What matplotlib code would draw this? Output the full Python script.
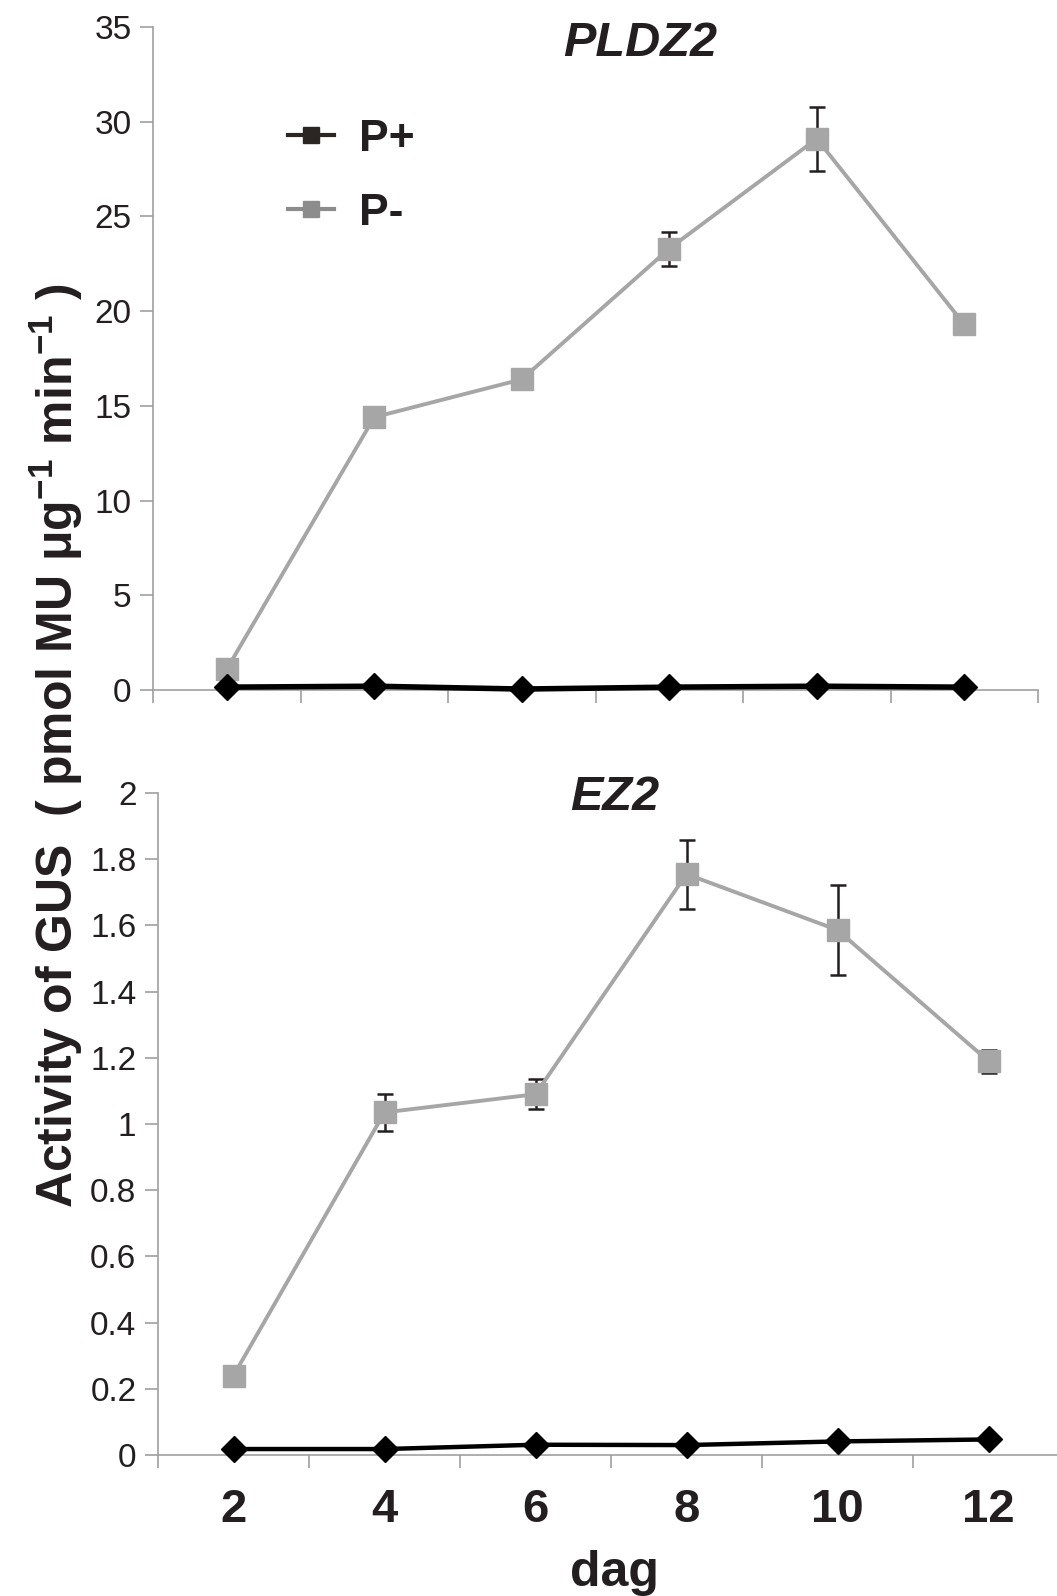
import matplotlib
matplotlib.use("Agg")
import matplotlib.pyplot as plt
from matplotlib.lines import Line2D
from matplotlib.ticker import FormatStrFormatter, FixedLocator

# data
days = ["2", "4", "6", "8", "10", "12"]
pldz2_plus = [0.15, 0.2, 0.05, 0.15, 0.2, 0.15]
pldz2_minus = [1.1, 14.4, 16.4, 23.3, 29.1, 19.3]
pldz2_minus_err = [0.3, 0.3, 0.3, 0.9, 1.7, 0.3]
ez2_plus = [0.018, 0.018, 0.031, 0.03, 0.041, 0.047]
ez2_minus = [0.24, 1.035, 1.09, 1.755, 1.586, 1.19]
ez2_minus_err = [0.02, 0.057, 0.045, 0.104, 0.135, 0.035]

ink = "#231f20"
grey_line = "#a6a6a6"
axis_grey = "#a0a0a0"

plt.rcParams["font.family"] = ["Liberation Sans", "DejaVu Sans"]
plt.rcParams["mathtext.fontset"] = "custom"
plt.rcParams["mathtext.rm"] = "Liberation Sans:bold"
plt.rcParams["mathtext.bf"] = "Liberation Sans:bold"

W, H = 1057, 1596
fig = plt.figure(figsize=(W / 100, H / 100), dpi=100)

# axes placed in pixel terms
ax1 = fig.add_axes([153 / W, 1 - 690 / H, 885 / W, (690 - 27) / H])
ax2 = fig.add_axes([158 / W, 1 - 1455 / H, 906 / W, (1455 - 793) / H])

x = list(range(len(days)))


def style(ax, ymax, step, fmt):
    for s in ["top", "right"]:
        ax.spines[s].set_visible(False)
    for s in ["left", "bottom"]:
        ax.spines[s].set_color(axis_grey)
        ax.spines[s].set_linewidth(1.2)
    ax.set_xlim(-0.5, len(days) - 0.5)
    ax.set_ylim(0, ymax)
    ax.yaxis.set_major_locator(FixedLocator([i * step for i in range(int(round(ymax / step)) + 1)]))
    ax.yaxis.set_major_formatter(FormatStrFormatter(fmt))
    ax.tick_params(axis="y", direction="out", length=9.5, width=1.2, color=axis_grey,
                   labelsize=24, labelcolor=ink, pad=6)
    ax.set_xticks(x)
    ax.set_xticks([i - 0.5 for i in range(len(days) + 1)], minor=True)
    ax.tick_params(axis="x", which="minor", direction="out", length=9, width=1.2, color=axis_grey)
    ax.tick_params(axis="x", which="major", length=0)


# top panel: PLDZ2
ax1.errorbar(x, pldz2_minus, yerr=pldz2_minus_err, fmt="none", ecolor=ink,
             elinewidth=1.8, capsize=6, capthick=1.8, zorder=2)
ax1.plot(x, pldz2_minus, color=grey_line, lw=2.8, marker="s", ms=16,
         mfc=grey_line, mec=grey_line, zorder=3)
ax1.plot(x, pldz2_plus, color="black", lw=4, marker="D", ms=13,
         mfc="black", mec="black", zorder=4, clip_on=False)
style(ax1, 35, 5, "%g")
ax1.set_xticklabels([])

# bottom panel: EZ2
ax2.errorbar(x, ez2_minus, yerr=ez2_minus_err, fmt="none", ecolor=ink,
             elinewidth=1.8, capsize=6, capthick=1.8, zorder=2)
ax2.plot(x, ez2_minus, color=grey_line, lw=2.8, marker="s", ms=16,
         mfc=grey_line, mec=grey_line, zorder=3)
ax2.plot(x, ez2_plus, color="black", lw=3.2, marker="D", ms=13,
         mfc="black", mec="black", zorder=4, clip_on=False)
style(ax2, 2, 0.2, "%g")
ax2.set_xticklabels(days, fontsize=34, fontweight="bold", color=ink)
ax2.tick_params(axis="x", which="major", pad=24)

# titles
fig.text(640 / W, 1 - 44 / H, "PLDZ2", fontsize=35, fontweight="bold", fontstyle="italic",
         color=ink, ha="center", va="center")
fig.text(615 / W, 1 - 797 / H, "EZ2", fontsize=35, fontweight="bold", fontstyle="italic",
         color=ink, ha="center", va="center")

# legend
handles = [
    Line2D([], [], color="#2b2622", lw=3, marker="s", ms=12, mfc="#2b2622", mec="#2b2622"),
    Line2D([], [], color="#8c8c8c", lw=3, marker="s", ms=12, mfc="#8c8c8c", mec="#8c8c8c"),
]
leg = ax1.legend(handles, ["P+", "P-"], loc="upper left", bbox_to_anchor=(0.107, 0.922),
                 frameon=False, handlelength=1.05, handletextpad=0.55, labelspacing=0.75,
                 prop={"size": 32, "weight": "bold"})
for t in leg.get_texts():
    t.set_color(ink)

# shared labels
fig.text(56 / W, 1 - 746 / H,
         r"Activity of GUS  ( pmol MU μg$^{\mathbf{-1}}$ min$^{\mathbf{-1}}$ )",
         rotation=90, fontsize=36, fontweight="bold", color=ink, ha="center", va="center")
fig.text(614 / W, 1 - 1573 / H, "dag", fontsize=36, fontweight="bold", color=ink,
         ha="center", va="center")

fig.savefig("out.png", dpi=100)
